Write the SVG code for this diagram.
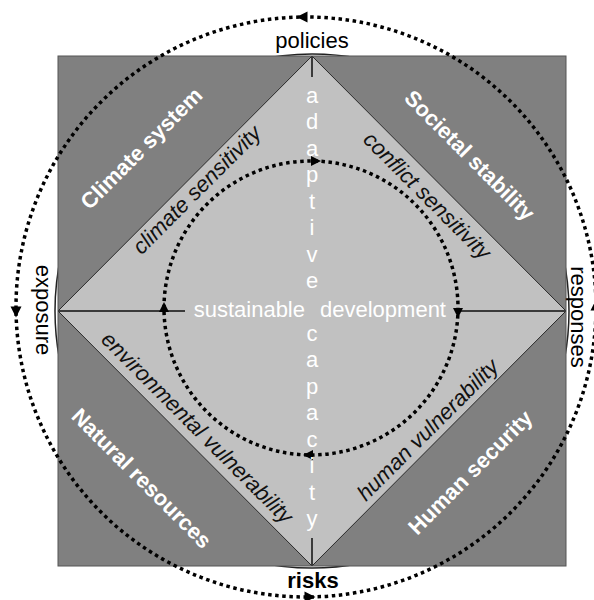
<svg xmlns="http://www.w3.org/2000/svg" width="594" height="600" viewBox="0 0 594 600">
<style>
text{font-family:"Liberation Sans",Arial,Helvetica,sans-serif;font-size:22px}
.wb{fill:#fff;font-weight:bold}
.it{fill:#111;font-style:italic}
.w{fill:#fff}
.lbl{fill:#000}
.dot{fill:none;stroke:#000;stroke-width:3.5;stroke-dasharray:3.5 3.6}
.ln{stroke:#3a3a3a;stroke-width:2;fill:none}
.ah{fill:#000}
</style>
<defs>
<path id="arr" d="M5.5,0 L-5.5,-5.5 L-5.5,5.5 Z"/>
<path id="arrs" d="M5,0 L-5,-5 L-5,5 Z"/>
</defs>
<rect width="594" height="600" fill="#fff"/>
<g id="ring">
<circle cx="312" cy="311" r="257" fill="none" stroke="#222" stroke-width="1.5"/>
</g>
<g id="square">
<rect x="58" y="56" width="508" height="510" fill="#808080" stroke="#555" stroke-width="1"/>
</g>
<g id="diamond">
<polygon points="312,56 566,311 312,566 58,311" fill="#c1c1c1" stroke="#2a2a2a" stroke-width="1"/>
</g>
<g id="connectors">
<line class="ln" x1="58" y1="311" x2="185" y2="311"/>
<line class="ln" x1="458" y1="311" x2="566" y2="311"/>
<line class="ln" x1="312" y1="56" x2="312" y2="77" stroke-width="2.5"/>
<line class="ln" x1="312" y1="538" x2="312" y2="566" stroke-width="2.5"/>
<circle class="dot" cx="306" cy="307" r="290"/>
<circle class="dot" cx="311" cy="308" r="147"/>
<use href="#arr" class="ah" transform="translate(302,17) rotate(180)"/>
<use href="#arr" class="ah" transform="translate(16,312) rotate(90)"/>
<use href="#arr" class="ah" transform="translate(310,597)"/>
<use href="#arr" class="ah" transform="translate(596,305) rotate(-90)"/>
<use href="#arrs" class="ah" transform="translate(316,161)"/>
<use href="#arrs" class="ah" transform="translate(458,313) rotate(90)"/>
<use href="#arrs" class="ah" transform="translate(308,455) rotate(180)"/>
<use href="#arrs" class="ah" transform="translate(164,307) rotate(-90)"/>
</g>
<g id="policies"><text class="lbl" x="312" y="48" text-anchor="middle">policies</text></g>
<g id="risks"><text class="lbl" x="313" y="588" text-anchor="middle" font-weight="bold">risks</text></g>
<g id="exposure"><text class="lbl" transform="translate(36,310) rotate(90)" text-anchor="middle">exposure</text></g>
<g id="responses"><text class="lbl" transform="translate(571,317) rotate(90)" text-anchor="middle">responses</text></g>
<g id="climate-system"><text class="wb" transform="translate(141,148) rotate(-45)" y="8" text-anchor="middle">Climate system</text></g>
<g id="societal-stability"><text class="wb" transform="translate(470,155) rotate(45)" y="8" text-anchor="middle">Societal stability</text></g>
<g id="natural-resources"><text class="wb" transform="translate(142,478) rotate(45)" y="8" text-anchor="middle">Natural resources</text></g>
<g id="human-security"><text class="wb" transform="translate(470,472) rotate(-45)" y="8" text-anchor="middle">Human security</text></g>
<g id="climate-sensitivity"><text class="it" transform="translate(197,190) rotate(-45)" y="7" text-anchor="middle">climate sensitivity</text></g>
<g id="conflict-sensitivity"><text class="it" transform="translate(427,196) rotate(45)" y="7" text-anchor="middle">conflict sensitivity</text></g>
<g id="environmental-vulnerability"><text class="it" transform="translate(197,428) rotate(45)" y="7" text-anchor="middle">environmental vulnerability</text></g>
<g id="human-vulnerability"><text class="it" transform="translate(428,430) rotate(-45)" y="7" text-anchor="middle">human vulnerability</text></g>
<g id="sustainable-development">
<text class="w" x="305" y="317" text-anchor="end">sustainable</text>
<text class="w" x="320" y="317">development</text>
</g>
<g id="adaptive-capacity">
<text class="w" text-anchor="middle"><tspan x="312" y="103">a</tspan><tspan x="312" y="129.4">d</tspan><tspan x="312" y="155.9">a</tspan><tspan x="312" y="182.3">p</tspan><tspan x="312" y="208.8">t</tspan><tspan x="312" y="235.2">i</tspan><tspan x="312" y="261.6">v</tspan><tspan x="312" y="288.1">e</tspan><tspan x="312" y="341">c</tspan><tspan x="312" y="367.4">a</tspan><tspan x="312" y="393.8">p</tspan><tspan x="312" y="420.3">a</tspan><tspan x="312" y="446.7">c</tspan><tspan x="312" y="473.2">i</tspan><tspan x="312" y="499.6">t</tspan><tspan x="312" y="526">y</tspan></text>
</g>
</svg>
